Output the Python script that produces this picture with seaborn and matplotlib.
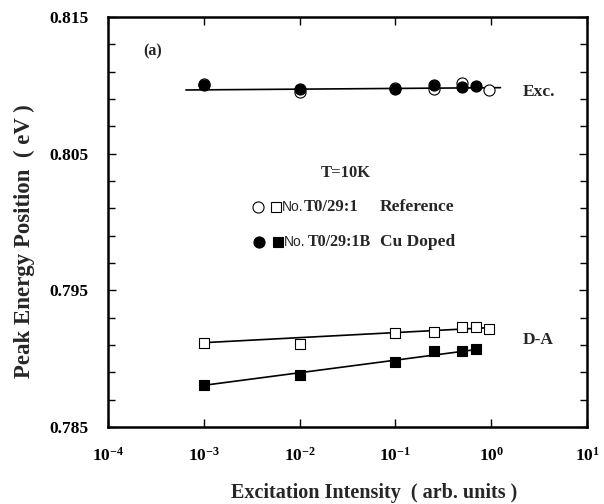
import numpy as np
import pandas as pd
import matplotlib
matplotlib.use("Agg")
import matplotlib.pyplot as plt
from matplotlib.ticker import FixedLocator, LogLocator, NullLocator, LogFormatterSciNotation
from matplotlib.lines import Line2D
import seaborn as sns

# Excitonic peak (Exc.)
exc_ref_x = [1e-3, 1e-2, 0.1, 0.25, 0.5, 0.95]
exc_ref_y = [0.8101, 0.80954, 0.80983, 0.80971, 0.81015, 0.80966]
exc_cu_x = [1e-3, 1e-2, 0.1, 0.25, 0.5, 0.7]
exc_cu_y = [0.81003, 0.80973, 0.80973, 0.81003, 0.80990, 0.80995]

# Donor-acceptor peak (D-A)
da_ref_x = [1e-3, 1e-2, 0.1, 0.25, 0.5, 0.7, 0.95]
da_ref_y = [0.79117, 0.79108, 0.79190, 0.79193, 0.79234, 0.79234, 0.79218]
da_cu_x = [1e-3, 1e-2, 0.1, 0.25, 0.5, 0.7]
da_cu_y = [0.78808, 0.78881, 0.78974, 0.79059, 0.79059, 0.79069]

# Fitted lines (end points)
exc_fit_x = [6.5e-4, 1.25]
exc_fit_y = [0.80966, 0.80983]
da_ref_fit_x = [1e-3, 0.95]
da_ref_fit_y = [0.79117, 0.79227]
da_cu_fit_x = [1e-3, 0.72]
da_cu_fit_y = [0.78805, 0.79068]

y_major = [0.785, 0.795, 0.805, 0.815]

sns.set_theme(style="ticks")
serif = "Liberation Serif"
plt.rcParams["font.family"] = [serif, "DejaVu Serif"]
plt.rcParams["font.weight"] = "bold"
plt.rcParams["mathtext.fontset"] = "custom"
plt.rcParams["mathtext.rm"] = serif + ":bold"
plt.rcParams["mathtext.it"] = serif + ":bold"
plt.rcParams["mathtext.bf"] = serif + ":bold"

fig = plt.figure(figsize=(6.04, 5.04), dpi=100)
ax = fig.add_axes([108 / 604, 1 - 427 / 504, 479 / 604, 410 / 504])

def fit_line(xs, ys):
    df = pd.DataFrame({"x": xs, "y": ys})
    sns.lineplot(data=df, x="x", y="y", ax=ax, color="black", lw=1.2,
                 estimator=None, sort=False, zorder=2)

fit_line(exc_fit_x, exc_fit_y)
fit_line(da_ref_fit_x, da_ref_fit_y)
fit_line(da_cu_fit_x, da_cu_fit_y)

def points(xs, ys, marker, filled, size):
    df = pd.DataFrame({"x": xs, "y": ys})
    sns.scatterplot(data=df, x="x", y="y", ax=ax, marker=marker, s=size,
                    facecolor="black" if filled else "white",
                    edgecolor="black", linewidth=0.8, zorder=3)

points(exc_ref_x, exc_ref_y, "o", False, 64)
points(exc_cu_x, exc_cu_y, "o", True, 64)
points(da_ref_x, da_ref_y, "s", False, 52)
points(da_cu_x, da_cu_y, "s", True, 52)

ax.set_xscale("log")
ax.set_xlim(1e-4, 1e1)
ax.set_ylim(0.785, 0.815)
ax.xaxis.set_major_locator(LogLocator(base=10, numticks=10))
ax.xaxis.set_minor_locator(NullLocator())
ax.xaxis.set_major_formatter(LogFormatterSciNotation())
ax.yaxis.set_major_locator(FixedLocator(y_major))
ax.yaxis.set_minor_locator(FixedLocator(np.arange(0.787, 0.8151, 0.002)))
ax.set_yticklabels([f"{v:.3f}" for v in y_major])
ax.tick_params(which="both", direction="in", top=True, right=True,
               width=1.0, color="black", labelsize=12.5, labelcolor="black")
ax.tick_params(which="major", length=6, pad=14)
ax.tick_params(which="minor", length=5)
ax.tick_params(axis="x", which="major", pad=14)
for s in ax.spines.values():
    s.set_linewidth(1.8)
    s.set_color("black")
ax.set_xlabel("")
ax.set_ylabel("")

fig.text(374 / 604, 1 - 493 / 504, "Excitation Intensity  ( arb. units )",
         ha="center", va="center", fontsize=14.5, fontweight="bold")
fig.text(24 / 604, 1 - 241 / 504, "Peak Energy Position  ( eV )",
         ha="center", va="center", rotation=90, fontsize=16.5, fontweight="bold")

ax.text(0.094, 0.915, "(a)", transform=ax.transAxes, ha="center", va="center",
        fontsize=11.5, fontweight="bold")
ax.text(0.866, 0.817, "Exc.", transform=ax.transAxes, ha="left", va="center",
        fontsize=12.5, fontweight="bold")
ax.text(0.866, 0.212, "D-A", transform=ax.transAxes, ha="left", va="center",
        fontsize=12.5, fontweight="bold")
ax.text(0.497, 0.6195, "T=10K", transform=ax.transAxes, ha="center", va="center",
        fontsize=12, fontweight="bold")

# Key for the two samples
def key_mark(x, y, marker, filled, ms):
    ax.add_line(Line2D([x], [y], transform=ax.transAxes, marker=marker, ms=ms,
                       mfc="black" if filled else "white", mec="black", mew=0.8,
                       ls="none", clip_on=False))

r1, r2 = 0.5366, 0.451
key_mark(0.313, r1, "o", False, 8)
key_mark(0.351, r1, "s", False, 7)
key_mark(0.315, r2, "o", True, 8)
key_mark(0.355, r2, "s", True, 7)
sans = ["Liberation Sans", "DejaVu Sans"]
ax.text(0.362, r1, "No.", transform=ax.transAxes, ha="left", va="center",
        fontsize=10, family=sans, fontweight="normal")
ax.text(0.522, r1, "T0/29:1", transform=ax.transAxes, ha="right", va="center",
        fontsize=12, fontweight="bold")
ax.text(0.568, r1, "Reference", transform=ax.transAxes, ha="left", va="center",
        fontsize=12.5, fontweight="bold")
ax.text(0.368, r2, "No.", transform=ax.transAxes, ha="left", va="center",
        fontsize=10, family=sans, fontweight="normal")
ax.text(0.549, r2, "T0/29:1B", transform=ax.transAxes, ha="right", va="center",
        fontsize=11.5, fontweight="bold")
ax.text(0.568, r2, "Cu Doped", transform=ax.transAxes, ha="left", va="center",
        fontsize=12.5, fontweight="bold")

fig.savefig("out.png", dpi=100, facecolor="white")
